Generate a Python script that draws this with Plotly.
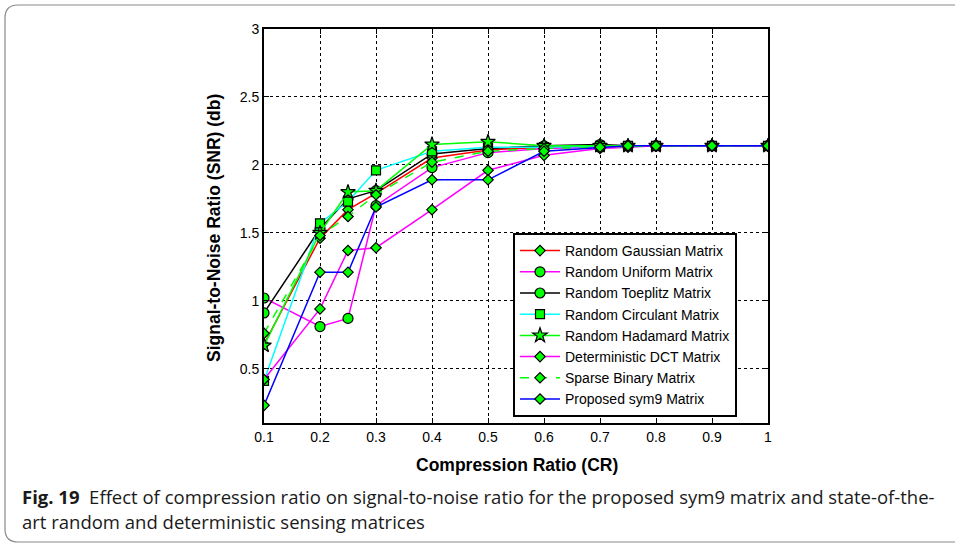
import plotly.graph_objects as go

# Compression ratios at which SNR was measured
cr = [0.1, 0.2, 0.25, 0.3, 0.4, 0.5, 0.6, 0.7, 0.75, 0.8, 0.9, 1.0]

# SNR (db) for each sensing matrix
snr_gaussian = [0.68, 1.46, 1.67, 1.79, 2.05, 2.11, 2.13, 2.14, 2.14, 2.14, 2.14, 2.14]
snr_uniform = [1.02, 0.81, 0.87, 1.70, 1.98, 2.09, 2.12, 2.13, 2.14, 2.14, 2.14, 2.14]
snr_toeplitz = [0.91, 1.53, 1.75, 1.81, 2.08, 2.12, 2.14, 2.15, 2.14, 2.14, 2.14, 2.14]
snr_circulant = [0.41, 1.57, 1.73, 1.96, 2.10, 2.13, 2.13, 2.14, 2.14, 2.14, 2.14, 2.14]
snr_hadamard = [0.67, 1.50, 1.80, 1.81, 2.15, 2.17, 2.14, 2.14, 2.14, 2.14, 2.14, 2.14]
snr_dct = [0.42, 0.94, 1.37, 1.39, 1.67, 1.96, 2.07, 2.12, 2.13, 2.14, 2.14, 2.14]
snr_sparse = [0.76, 1.48, 1.62, 1.78, 2.02, 2.10, 2.12, 2.13, 2.14, 2.14, 2.14, 2.14]
snr_sym9 = [0.23, 1.21, 1.21, 1.69, 1.89, 1.89, 2.10, 2.13, 2.14, 2.14, 2.14, 2.14]

names = [
    "Random Gaussian Matrix", "Random Uniform Matrix", "Random Toeplitz Matrix",
    "Random Circulant Matrix", "Random Hadamard Matrix", "Deterministic DCT Matrix",
    "Sparse Binary Matrix", "Proposed sym9 Matrix",
]
series = [snr_gaussian, snr_uniform, snr_toeplitz, snr_circulant,
          snr_hadamard, snr_dct, snr_sparse, snr_sym9]
colors = ["#ff0000", "#ff00ff", "#000000", "#00ffff",
          "#00ff00", "#ff00ff", "#00ff00", "#0000ff"]
symbols = ["diamond", "circle", "circle", "square",
           "star", "diamond", "diamond", "diamond"]
sizes = [8, 10, 10, 9, 11, 8, 8, 8]
dashes = ["solid"] * 6 + ["dash", "solid"]

x_ticks = [0.1, 0.2, 0.3, 0.4, 0.5, 0.6, 0.7, 0.8, 0.9, 1.0]
x_labels = ["0.1", "0.2", "0.3", "0.4", "0.5", "0.6", "0.7", "0.8", "0.9", "1"]
y_ticks = [0.5, 1.0, 1.5, 2.0, 2.5, 3.0]
y_labels = ["0.5", "1", "1.5", "2", "2.5", "3"]

fig = go.Figure()
for name, ys, col, sym, sz, dsh in zip(names, series, colors, symbols, sizes, dashes):
    fig.add_trace(go.Scatter(
        x=cr, y=ys, name=name, mode="lines+markers",
        line=dict(color=col, width=1.5, dash=dsh),
        marker=dict(symbol=sym, size=sz, color="#00ff00",
                    line=dict(color="#000000", width=1.2)),
    ))

W, H = 955, 545
L, R, T, B = 264, 187, 29, 122
PW, PH = W - L - R, H - T - B


def px(xp):
    return (xp - L) / PW


def py(yp):
    return (H - B - yp) / PH


# Rounded outer frame around the figure and caption
x0, x1, y0, y1, r = 5, 962, 5, 542, 13
frame = (
    f"M {px(x0)},{py(y0 + r)} "
    f"Q {px(x0)},{py(y0)} {px(x0 + r)},{py(y0)} "
    f"L {px(x1)},{py(y0)} "
    f"L {px(x1)},{py(y1)} "
    f"L {px(x0 + r)},{py(y1)} "
    f"Q {px(x0)},{py(y1)} {px(x0)},{py(y1 - r)} Z"
)
fig.add_shape(type="path", path=frame, xref="paper", yref="paper",
              line=dict(color="#8a8a8a", width=1.2), layer="below")

axis_font = dict(family="Liberation Sans", size=14, color="#000000")

fig.update_xaxes(
    range=[0.1, 1.0], tickvals=x_ticks, ticktext=x_labels,
    showline=True, linecolor="#000000", linewidth=1.8, mirror="ticks",
    ticks="inside", ticklen=5, tickcolor="#000000",
    showgrid=True, gridcolor="#000000", griddash="dot", gridwidth=1,
    zeroline=False, tickfont=axis_font,
)
fig.update_yaxes(
    range=[0.1, 3.0], tickvals=y_ticks, ticktext=y_labels,
    showline=True, linecolor="#000000", linewidth=1.8, mirror="ticks",
    ticks="inside", ticklen=5, tickcolor="#000000",
    showgrid=True, gridcolor="#000000", griddash="dot", gridwidth=1,
    zeroline=False, tickfont=axis_font,
)

title_font = dict(family="Liberation Sans", size=17.5, color="#000000")
fig.add_annotation(text="<b>Compression Ratio (CR)</b>", xref="paper", yref="paper",
                   x=px(517), y=py(465), xanchor="center", yanchor="middle",
                   showarrow=False, font=title_font)
fig.add_annotation(text="<b>Signal-to-Noise Ratio (SNR) (db)</b>", xref="paper", yref="paper",
                   x=px(214), y=py(228), xanchor="center", yanchor="middle",
                   showarrow=False, textangle=-90, font=title_font)

cap_font = dict(family="Open Sans", size=18.5, color="#1a1a1a")
fig.add_annotation(
    text="<b>Fig. 19</b>  Effect of compression ratio on signal-to-noise ratio for the proposed sym9 matrix and state-of-the-",
    xref="paper", yref="paper", x=px(20), y=py(496), xanchor="left", yanchor="middle",
    showarrow=False, font=cap_font)
fig.add_annotation(
    text="art random and deterministic sensing matrices",
    xref="paper", yref="paper", x=px(20), y=py(521), xanchor="left", yanchor="middle",
    showarrow=False, font=cap_font)

fig.update_layout(
    width=W, height=H,
    margin=dict(l=L, r=R, t=T, b=B),
    paper_bgcolor="#ffffff", plot_bgcolor="#ffffff",
    legend=dict(
        x=px(513), y=py(233), xanchor="left", yanchor="top",
        bgcolor="#ffffff", bordercolor="#000000", borderwidth=2,
        font=dict(family="Liberation Sans", size=14, color="#000000"),
        tracegroupgap=0, itemwidth=40,
    ),
    showlegend=True,
)

fig.write_html("out.html")
